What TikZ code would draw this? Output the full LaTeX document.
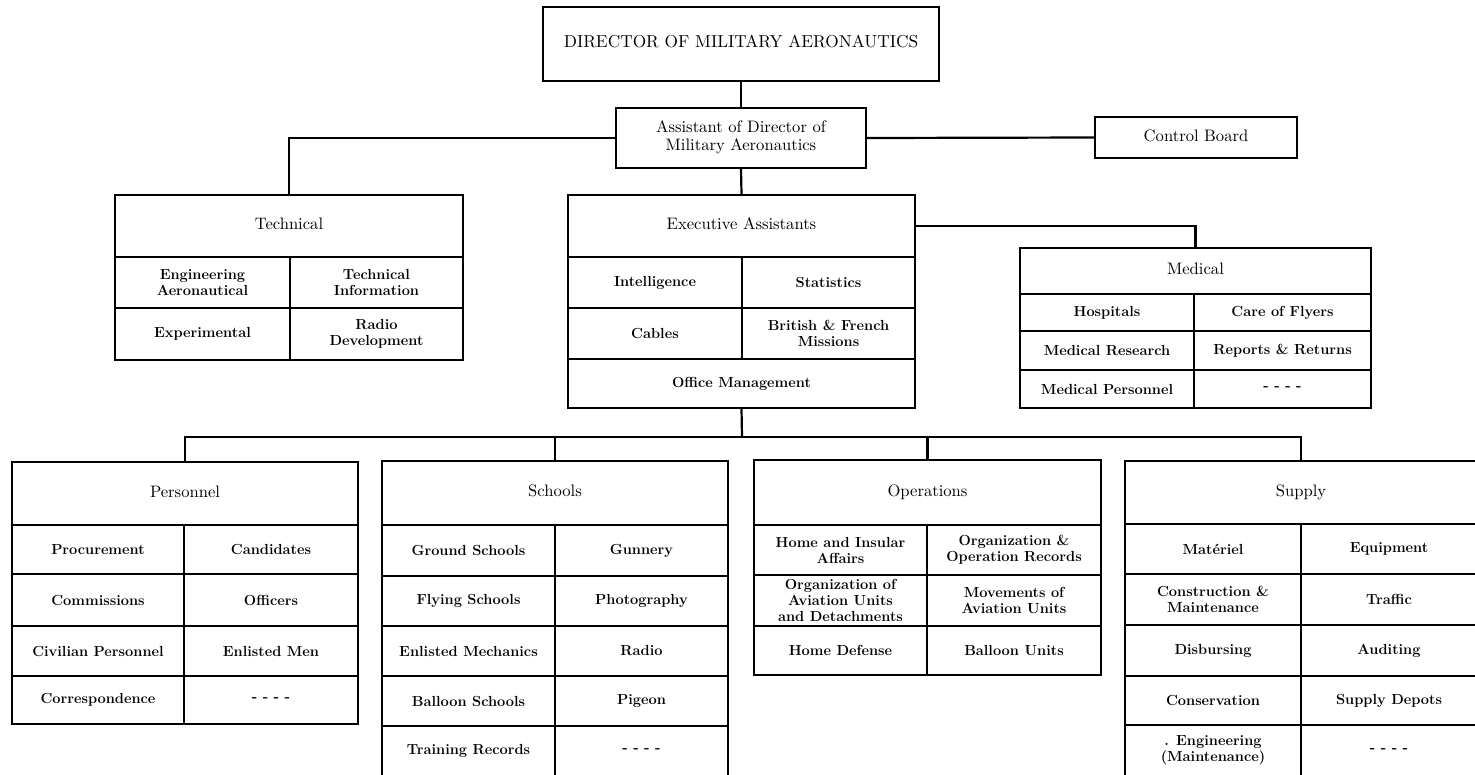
\documentclass[tikz,border=0pt]{standalone}
\usepackage{graphicx}
\usetikzlibrary{calc}
\newcommand\hd[2][1.66]{\scalebox{#1}{\fontsize{10}{11}\selectfont\begin{tabular}{@{}c@{}}#2\end{tabular}}}
\tikzset{
  hdrbox/.style={draw, line width=1.6pt, inner sep=1pt, align=center},
  cellbox/.style={draw, line width=1.6pt, inner sep=1pt, align=center, font=\bfseries\fontsize{14.6}{16}\selectfont},
  conn/.style={line width=2.2pt, line join=miter},
}
\newcommand\boxnode[7][cellbox]{%
  \node[#1, minimum width={(#5-#3)*1pt}, minimum height={(#6-#4)*1pt}] (#2) at ({(#3+#5)/2},{(#4+#6)/2}) {#7};}
\begin{document}
\begin{tikzpicture}[x=1pt,y=-1pt]
\useasboundingbox (0,0) rectangle (1475,774);
\fill[white] (0,0) rectangle (1475,774);
\clip (0,0) rectangle (1475,774);
% top
\boxnode[hdrbox]{dir}{543}{7}{939}{81}{\hd[1.73]{DIRECTOR OF MILITARY AERONAUTICS}}
\boxnode[hdrbox]{asst}{616}{108}{866}{168}{\hd{Assistant of Director of\\Military Aeronautics}}
\boxnode[hdrbox]{ctrl}{1095}{117}{1297}{158}{\hd{Control Board}}
% technical
\boxnode[hdrbox]{tech}{115}{195}{463}{257}{\hd{Technical}}
\boxnode{tech11}{115}{257}{290}{308}{Engineering\\Aeronautical}
\boxnode{tech12}{290}{257}{463}{308}{Technical\\Information}
\boxnode{tech21}{115}{308}{290}{360}{Experimental}
\boxnode{tech22}{290}{308}{463}{360}{Radio\\Development}
% executive
\boxnode[hdrbox]{exec}{568}{195}{915}{257}{\hd{Executive Assistants}}
\boxnode{ex11}{568}{257}{742}{308}{Intelligence}
\boxnode{ex12}{742}{257}{915}{308}{Statistics}
\boxnode{ex21}{568}{308}{742}{359}{Cables}
\boxnode{ex22}{742}{308}{915}{359}{British \& French\\Missions}
\boxnode{office}{568}{359}{915}{408}{Office Management}
% medical
\boxnode[hdrbox]{med}{1020}{248}{1371}{294}{\hd{Medical}}
\boxnode{med11}{1020}{294}{1194}{331}{Hospitals}
\boxnode{med12}{1194}{294}{1371}{331}{Care of Flyers}
\boxnode{med21}{1020}{331}{1194}{370}{Medical Research}
\boxnode{med22}{1194}{331}{1371}{370}{Reports \& Returns}
\boxnode{med31}{1020}{370}{1194}{408}{Medical Personnel}
\boxnode{med32}{1194}{370}{1371}{408}{- - - -}
% personnel
\boxnode[hdrbox]{pers}{12}{462}{358}{525}{\hd{Personnel}}
\boxnode{pe11}{12}{525}{184}{574}{Procurement}
\boxnode{pe12}{184}{525}{358}{574}{Candidates}
\boxnode{pe21}{12}{574}{184}{626}{Commissions}
\boxnode{pe22}{184}{574}{358}{626}{Officers}
\boxnode{pe31}{12}{626}{184}{676}{Civilian Personnel}
\boxnode{pe32}{184}{626}{358}{676}{Enlisted Men}
\boxnode{pe41}{12}{676}{184}{724}{Correspondence}
\boxnode{pe42}{184}{676}{358}{724}{- - - -}
% schools
\boxnode[hdrbox]{sch}{382}{461}{728}{525}{\hd{Schools}}
\boxnode{sc11}{382}{525}{555}{576}{Ground Schools}
\boxnode{sc12}{555}{525}{728}{576}{Gunnery}
\boxnode{sc21}{382}{576}{555}{626}{Flying Schools}
\boxnode{sc22}{555}{576}{728}{626}{Photography}
\boxnode{sc31}{382}{626}{555}{676}{Enlisted Mechanics}
\boxnode{sc32}{555}{626}{728}{676}{Radio}
\boxnode{sc41}{382}{676}{555}{726}{Balloon Schools}
\boxnode{sc42}{555}{676}{728}{726}{Pigeon}
\boxnode{sc51}{382}{726}{555}{776}{Training Records}
\boxnode{sc52}{555}{726}{728}{776}{- - - -}
% operations
\boxnode[hdrbox]{ops}{754}{460}{1101}{525}{\hd{Operations}}
\boxnode{op11}{754}{525}{927}{575}{Home and Insular\\Affairs}
\boxnode{op12}{927}{525}{1101}{575}{Organization \&\\Operation Records}
\boxnode{op21}{754}{575}{927}{626}{Organization of\\Aviation Units\\and Detachments}
\boxnode{op22}{927}{575}{1101}{626}{Movements of\\Aviation Units}
\boxnode{op31}{754}{626}{927}{675}{Home Defense}
\boxnode{op32}{927}{626}{1101}{675}{Balloon Units}
% supply
\boxnode[hdrbox]{sup}{1125}{461}{1477}{524}{\hd{Supply}}
\boxnode{su11}{1125}{524}{1301}{574}{Matériel}
\boxnode{su12}{1301}{524}{1477}{574}{Equipment}
\boxnode{su21}{1125}{574}{1301}{625}{Construction \&\\Maintenance}
\boxnode{su22}{1301}{574}{1477}{625}{Traffic}
\boxnode{su31}{1125}{625}{1301}{676}{Disbursing}
\boxnode{su32}{1301}{625}{1477}{676}{Auditing}
\boxnode{su41}{1125}{676}{1301}{725}{Conservation}
\boxnode{su42}{1301}{676}{1477}{725}{Supply Depots}
\boxnode{su51}{1125}{725}{1301}{776}{. Engineering\\(Maintenance)}
\boxnode{su52}{1301}{725}{1477}{776}{- - - -}
% connectors
\draw[conn] (dir.south) -- (asst.north);
\draw[conn] (asst.east) -- (ctrl.west);
\draw[conn] (asst.west) -| (tech.north);
\draw[conn] (asst.south) -- (exec.north);
\draw[conn] (exec.east) -| (med.north);
\coordinate (bus) at (742,437);
\draw[conn] (office.south) -- (bus);
\draw[conn] (pers.north) |- (bus) -| (sup.north);
\draw[conn] (sch.north) -- (sch.north |- bus);
\draw[conn] (ops.north) -- (ops.north |- bus);
\end{tikzpicture}
\end{document}
